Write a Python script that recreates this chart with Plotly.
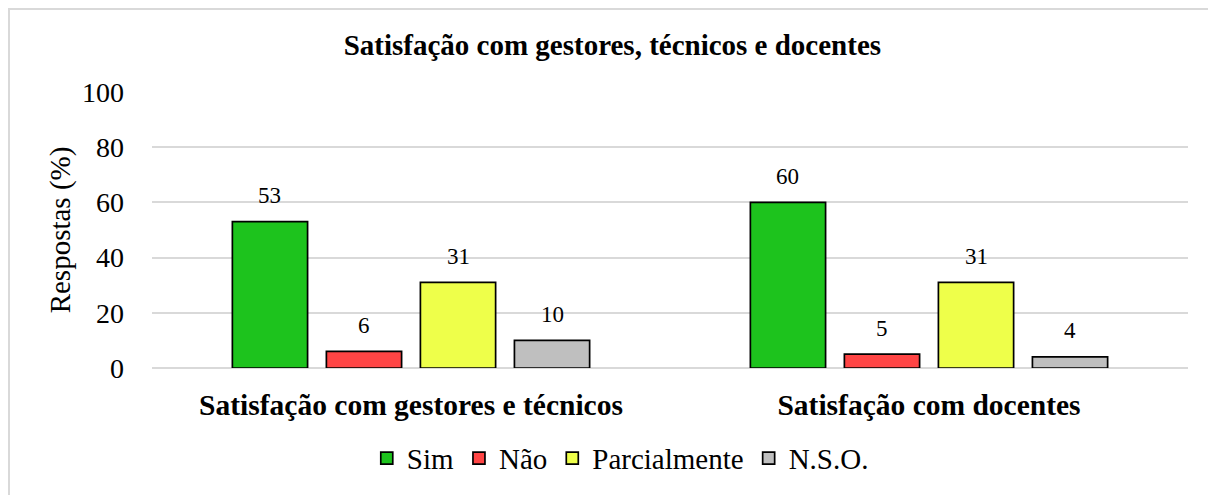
import plotly.graph_objects as go

categories = ["Satisfação com gestores e técnicos", "Satisfação com docentes"]
series_names = ["Sim", "Não", "Parcialmente", "N.S.O."]
sim = [53, 60]
nao = [6, 5]
parcialmente = [31, 31]
nso = [10, 4]
values = [sim, nao, parcialmente, nso]
colors = ["#1DC31D", "#FF4545", "#EEFF4A", "#BFBFBF"]
y_ticks = [0, 20, 40, 60, 80, 100]

FONT = "Liberation Serif"

# layout geometry (pixels)
W, H = 1216, 495
ML, MR, MT, MB = 144, 36, 84, 135
BARGAP, BARGROUPGAP = 0.274, 0.2
plot_w = W - ML - MR
cat_w = plot_w / len(categories)
pitch = cat_w * (1 - BARGAP) / len(series_names)

fig = go.Figure()
for name, vals, col in zip(series_names, values, colors):
    fig.add_trace(go.Bar(
        name=name, x=categories, y=vals,
        marker=dict(color=col, line=dict(color="black", width=1.7)),
        hoverinfo="x+y+name",
    ))

# data labels above each bar
annotations = []
for i, vals in enumerate(values):
    xshift = (i - (len(series_names) - 1) / 2) * pitch
    for cat, v in zip(categories, vals):
        annotations.append(dict(
            x=cat, y=v, xref="x", yref="y", text=str(v), showarrow=False,
            xshift=xshift, yshift=26, xanchor="center", yanchor="middle",
            font=dict(family=FONT, size=23, color="black"),
        ))

fig.update_layout(
    width=W, height=H,
    margin=dict(l=ML, r=MR, t=MT, b=MB),
    paper_bgcolor="white", plot_bgcolor="white",
    barmode="group", bargap=BARGAP, bargroupgap=BARGROUPGAP,
    font=dict(family=FONT, color="black"),
    title=dict(text="<b>Satisfação com gestores, técnicos e docentes</b>",
               x=0.497, xref="container", xanchor="center",
               y=1 - 37 / H, yref="container", yanchor="middle",
               font=dict(family=FONT, size=29, color="black")),
    legend=dict(orientation="h", x=0.452, xanchor="center", y=-0.327, yanchor="middle",
                font=dict(family=FONT, size=29, color="black"),
                itemwidth=30, tracegroupgap=0, itemclick=False),
    showlegend=True,
    annotations=annotations,
)
fig.update_xaxes(
    showgrid=False, showline=False, ticks="",
    ticklabelstandoff=16,
    tickfont=dict(family=FONT, size=29.5, color="black"),
    tickprefix="<b>", ticksuffix="</b>",
)
fig.update_yaxes(
    range=[0, 100], tickvals=y_ticks, showgrid=True, gridcolor="#D9D9D9", gridwidth=1.5,
    zeroline=True, zerolinecolor="#D9D9D9", zerolinewidth=1.5,
    showline=False, ticks="", ticklabelstandoff=27,
    tickfont=dict(family=FONT, size=28, color="black"),
    title=dict(text="Respostas (%)", font=dict(family=FONT, size=29, color="black"), standoff=2),
)
fig.add_shape(type="rect", xref="paper", yref="paper",
              x0=(1 - ML) / plot_w, x1=(1240 - ML) / plot_w,
              y0=-(520 - (H - MB)) / (H - MT - MB), y1=((H - MB) - 1) / (H - MT - MB),
              line=dict(color="#D9D9D9", width=2), fillcolor="rgba(0,0,0,0)", layer="below")

fig.write_html("out.html")
